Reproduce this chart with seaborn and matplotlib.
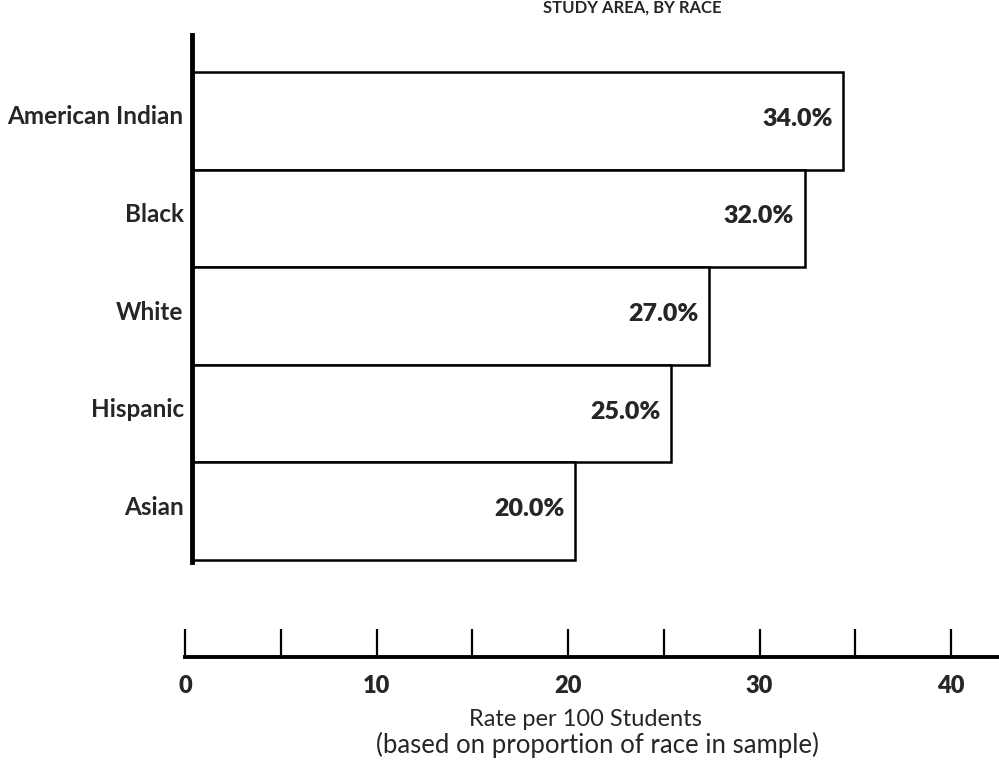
"""Horizontal bar chart: rate per 100 students, by race."""

import matplotlib
matplotlib.use("Agg")
import matplotlib.pyplot as plt
import matplotlib.transforms as mtransforms
import pandas as pd
import seaborn as sns

categories = ["American Indian", "Black", "White", "Hispanic", "Asian"]
rates = [34.0, 32.0, 27.0, 25.0, 20.0]
value_labels = ["34.0%", "32.0%", "27.0%", "25.0%", "20.0%"]
tick_values = [0, 5, 10, 15, 20, 25, 30, 35, 40]
tick_labels = ["0", "", "10", "", "20", "", "30", "", "40"]

W, H = 999, 770
X0 = 192            # pixel of value 0 for the bars
SX0 = 185           # pixel of value 0 on the scale below
PX_PER_UNIT = 19.15

sns.set_theme(style="white")
plt.rcParams["font.family"] = ["Lato", "DejaVu Sans"]

df = pd.DataFrame({"race": categories, "rate": rates})

fig = plt.figure(figsize=(W / 100, H / 100), dpi=100)

# main bar axes (bars from pixel 72 to 560, spine from 35 to 562)
TOP, BOT, SP_TOP, SP_BOT = 72, 560, 35, 562
unit = (BOT - TOP) / 5
ax = fig.add_axes([X0 / W, 1 - SP_BOT / H, 1 - X0 / W, (SP_BOT - SP_TOP) / H])
sns.barplot(data=df, x="rate", y="race", orient="h", color="white",
            edgecolor="black", linewidth=1.8, width=1.0, saturation=1, ax=ax)
ax.set_xlim(0, (W - X0) / PX_PER_UNIT)
ax.set_ylim(4.5 + (SP_BOT - BOT) / unit, -0.5 - (TOP - SP_TOP) / unit)
for side in ["top", "right", "bottom"]:
    ax.spines[side].set_visible(False)
ax.spines["left"].set_linewidth(3.5)
ax.spines["left"].set_color("black")
ax.set_xticks([])
ax.set_xlabel("")
ax.set_ylabel("")
ax.tick_params(axis="y", length=0, pad=6)
ax.set_yticks(range(len(categories)))
ax.set_yticklabels(categories, fontweight="bold", fontsize=17.5, va="center")
# category names sit a few pixels above the bar centres
lift = mtransforms.ScaledTranslation(0, 4 / 100, fig.dpi_scale_trans)
for lbl in ax.get_yticklabels():
    lbl.set_transform(lbl.get_transform() + lift)

for i, (v, t) in enumerate(zip(rates, value_labels)):
    ax.text(v - 0.55, i - 0.02, t, ha="right", va="center",
            fontsize=18, fontweight="heavy")

# separate scale axis at the bottom (spine at pixel y=657)
sx = fig.add_axes([SX0 / W, 1 - 657 / H, 1 - SX0 / W, 0.001])
sx.set_xlim(0, (W - SX0) / PX_PER_UNIT)
sx.set_yticks([])
for side in ["top", "right", "left"]:
    sx.spines[side].set_visible(False)
sx.spines["bottom"].set_linewidth(2.8)
sx.spines["bottom"].set_color("black")
sx.set_xticks(tick_values)
sx.set_xticklabels(tick_labels)
sx.tick_params(axis="x", bottom=True, direction="in", length=20, width=1.6,
               pad=13, labelsize=17, color="black")
for lbl in sx.get_xticklabels():
    lbl.set_fontweight("heavy")

fig.text(585 / W, 1 - 720 / H, "Rate per 100 Students",
         ha="center", va="center", fontsize=17)
fig.text(597 / W, 1 - 745 / H, "(based on proportion of race in sample)",
         ha="center", va="center", fontsize=18.5)

# title at the very top (only its lower edge shows in the scan)
fig.text(632 / W, 1.0, "STUDY AREA, BY RACE", ha="center", va="top",
         fontsize=12, fontweight="bold")

fig.savefig("out.png", dpi=100)
